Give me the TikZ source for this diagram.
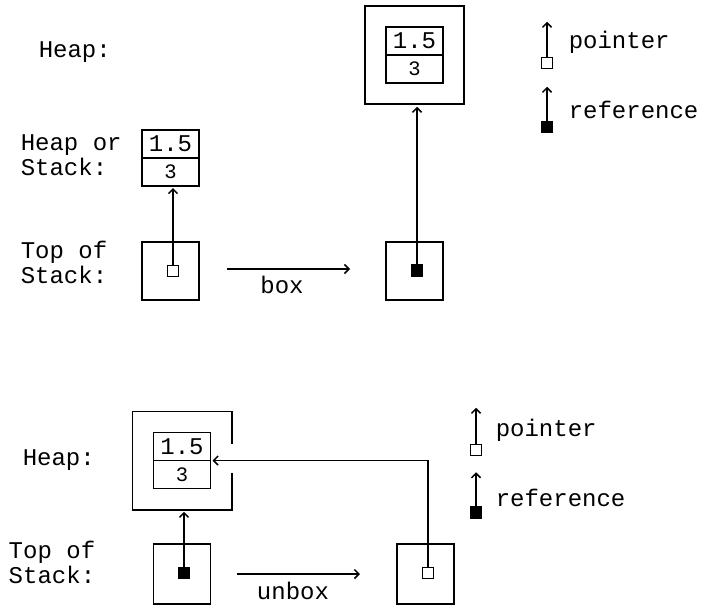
\documentclass[tikz,border=0pt]{standalone}
\usepackage{fontspec}
\setmonofont{Liberation Mono}
\usetikzlibrary{positioning,arrows.meta}

\tikzset{
  cell/.style={draw,minimum width=57pt,minimum height=28pt,inner sep=0pt,outer sep=0pt,font=\ttfamily\fontsize{24}{25}\selectfont},
  lowcell/.style={cell,font=\ttfamily\fontsize{20.5}{21}\selectfont},
  slot/.style={draw,minimum width=57pt,minimum height=58pt,inner sep=0pt},
  heapbox/.style={draw,minimum width=99pt,minimum height=98pt,inner sep=0pt},
  ptrsq/.style={draw,fill=white,minimum size=11pt,inner sep=0pt},
  refsq/.style={ptrsq,fill=black},
  lbl/.style={anchor=west,align=left,inner sep=0pt,font=\ttfamily\fontsize{24}{25}\selectfont},
  txt/.style={inner sep=0pt,font=\ttfamily\fontsize{24}{25}\selectfont},
}

\begin{document}
\begin{tikzpicture}[x=1pt,y=-1pt,line width=1.5pt,>={Straight Barb[length=4.5pt,width=9pt]}]
\useasboundingbox (0,0) rectangle (708,613);

% boxing
\begin{scope}
\node[lbl] at (38,52) {Heap:};
\node[lbl] at (20,155) {Heap or\\Stack:};
\node[lbl] at (20,262) {Top of\\Stack:};

\node[cell] (valA) at (170.5,144) {1.5};
\node[lowcell,below=0pt of valA] (tagA) {3};
\node[slot] (slotA) at (170.5,271) {};
\node[ptrsq] (ptrA) at (173,271) {};
\draw[->,shorten >=2pt] (ptrA.north) -- (ptrA.north |- tagA.south);

\coordinate (boxL) at (227,269);
\coordinate (boxR) at (350,269);
\draw[->] (boxL) -- (boxR);
\node[txt] at (282,285) {box};

\node[heapbox] (heapB) at (414.5,55) {};
\node[cell] (valB) at (414.5,41) {1.5};
\node[lowcell,below=0pt of valB] (tagB) {3};
\node[slot] (slotB) at (414.5,271) {};
\node[refsq] (ptrB) at (417,270.5) {};
\draw[->,shorten >=2pt] (ptrB.north) -- (ptrB.north |- heapB.south);

\node[ptrsq] (keyA) at (547,63) {};
\draw[->] (keyA.north) -- ++(0,-35);
\node[lbl] at (568,42) {pointer};
\node[refsq] (keyB) at (547,127) {};
\draw[->] (keyB.north) -- ++(0,-34);
\node[lbl] at (568,110) {reference};
\end{scope}

% unboxing
\begin{scope}
\node[lbl] at (22,460) {Heap:};
\node[lbl] at (8,562) {Top of\\Stack:};

\node[minimum width=98pt,minimum height=97pt,inner sep=0pt] (heapC) at (182,460.5) {};
\draw ([yshift=17pt]heapC.east) -- (heapC.north east) -- (heapC.north west)
  -- (heapC.south west) -- (heapC.south east) -- ([yshift=-12pt]heapC.east);
\node[cell] (valC) at (182,446.5) {1.5};
\node[lowcell,below=0pt of valC] (tagC) {3};

\node[slot,minimum height=60pt] (slotC) at (182,574) {};
\node[refsq] (ptrC) at (184,573) {};
\draw[->,shorten >=2pt] (ptrC.north) -- (ptrC.north |- heapC.south);

\coordinate (unboxL) at (237,574);
\coordinate (unboxR) at (360,574);
\draw[->] (unboxL) -- (unboxR);
\node[txt] at (293,591) {unbox};

\node[slot,minimum height=60pt] (slotD) at (425.5,574) {};
\node[ptrsq] (ptrD) at (428,573) {};
\draw[->,shorten >=2pt] (ptrD.north) |- (valC.south east);

\node[ptrsq] (keyC) at (476,450) {};
\draw[->] (keyC.north) -- ++(0,-36);
\node[lbl] at (495,430) {pointer};
\node[refsq] (keyD) at (476,512.5) {};
\draw[->] (keyD.north) -- ++(0,-34);
\node[lbl] at (495,498) {reference};
\end{scope}

\end{tikzpicture}
\end{document}
